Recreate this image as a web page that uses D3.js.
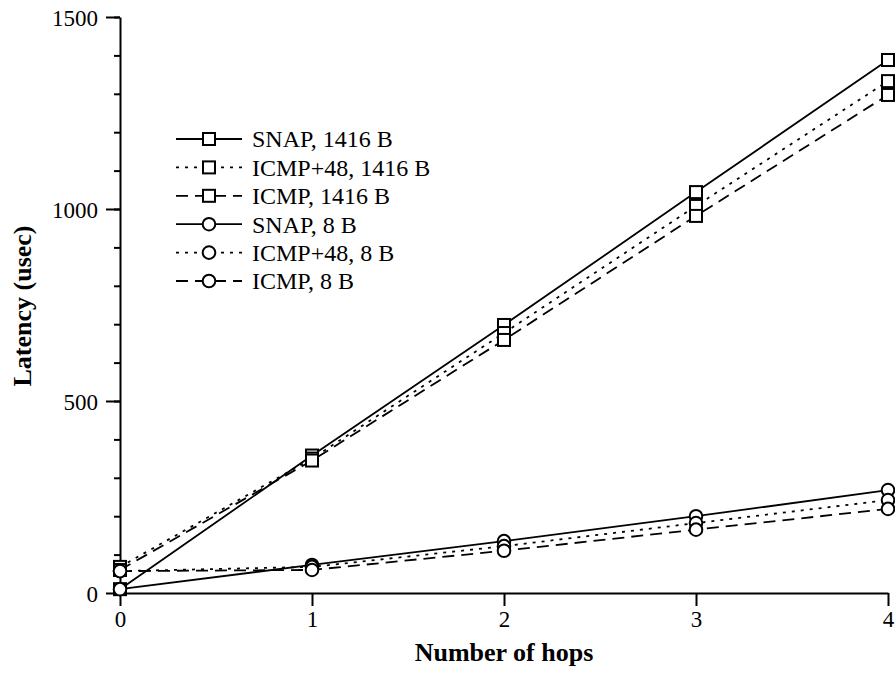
<!DOCTYPE html>
<html><head><meta charset="utf-8">
<script src="https://cdn.jsdelivr.net/npm/d3@7/dist/d3.min.js"></script>
<style>body{margin:0;background:#fff}svg{display:block}text{font-family:"Liberation Serif","Times New Roman",serif}</style>
</head><body>
<svg id="c" width="895" height="675"></svg>
<script>
const hops = [0, 1, 2, 3, 4];
const snap1416 = [10, 358, 698, 1044, 1388];
const icmp48_1416 = [68, 350, 677, 1008, 1333];
const icmp1416 = [60, 345, 659, 982, 1297];
const snap8 = [10, 73, 135, 200, 268];
const icmp48_8 = [57, 68, 122, 182, 242];
const icmp8 = [57, 60, 110, 165, 219];
const seriesNames = ["SNAP, 1416 B", "ICMP+48, 1416 B", "ICMP, 1416 B", "SNAP, 8 B", "ICMP+48, 8 B", "ICMP, 8 B"];
const xTicks = [0, 1, 2, 3, 4];
const yTicks = [0, 500, 1000, 1500];

const series = [
  {name: seriesNames[0], v: snap1416, dash: null, m: "sq"},
  {name: seriesNames[1], v: icmp48_1416, dash: "3,6", m: "sq"},
  {name: seriesNames[2], v: icmp1416, dash: "12,7", m: "sq"},
  {name: seriesNames[3], v: snap8, dash: null, m: "ci"},
  {name: seriesNames[4], v: icmp48_8, dash: "3,6", m: "ci"},
  {name: seriesNames[5], v: icmp8, dash: "12,7", m: "ci"}
];

const svg = d3.select("#c");
const x = d3.scaleLinear().domain([0, 4]).range([120, 888]);
const y = d3.scaleLinear().domain([0, 1500]).range([593, 17]);

// axes
const xa = svg.append("g").attr("transform", "translate(0,593)")
  .call(d3.axisBottom(x).tickValues(xTicks).tickFormat(d3.format("d")).tickSize(13).tickSizeOuter(0));
const yMinor = svg.append("g").attr("transform", "translate(120,0)")
  .call(d3.axisLeft(y).tickValues(d3.range(0, 1501, 100)).tickFormat("").tickSize(6).tickSizeOuter(0));
yMinor.select(".domain").remove();
const ya = svg.append("g").attr("transform", "translate(120,0)")
  .call(d3.axisLeft(y).tickValues(yTicks).tickFormat(d3.format("d")).tickSize(14).tickSizeOuter(0));
[xa, ya, yMinor].forEach(g => {
  g.selectAll("line").attr("stroke", "#000").attr("stroke-width", 2);
  g.select(".domain").attr("stroke", "#000").attr("stroke-width", 2);
  g.selectAll("text").attr("fill", "#000").style("font-size", "23px");
});
xa.selectAll("text").attr("dy", "0").attr("y", 34);
ya.selectAll("text").attr("x", -22).attr("dy", "0.35em");

// titles
svg.append("text").attr("x", 504).attr("y", 661).attr("text-anchor", "middle")
  .style("font-size", "26px").style("font-weight", "bold").text("Number of hops");
svg.append("text").attr("transform", "translate(31,306) rotate(-90)").attr("text-anchor", "middle")
  .style("font-size", "26px").style("font-weight", "bold").text("Latency (usec)");

const line = d3.line().x((d, i) => x(hops[i])).y(d => y(d));
function marker(g, type, cx, cy) {
  if (type === "sq") {
    g.append("rect").attr("x", cx - 6).attr("y", cy - 6).attr("width", 12).attr("height", 12)
      .attr("fill", "#fff").attr("stroke", "#000").attr("stroke-width", 2);
  } else {
    g.append("circle").attr("cx", cx).attr("cy", cy).attr("r", 6.3)
      .attr("fill", "#fff").attr("stroke", "#000").attr("stroke-width", 2);
  }
}
const plot = svg.append("g");
series.forEach(s => {
  plot.append("path").datum(s.v).attr("d", line).attr("fill", "none")
    .attr("stroke", "#000").attr("stroke-width", 1.8)
    .attr("stroke-dasharray", s.dash);
});
series.forEach(s => {
  s.v.forEach((d, i) => marker(plot, s.m, x(hops[i]), y(d)));
});

// legend
const lg = svg.append("g");
series.forEach((s, i) => {
  const ly = 139 + i * 28.4;
  lg.append("line").attr("x1", 176).attr("x2", 242).attr("y1", ly).attr("y2", ly)
    .attr("stroke", "#000").attr("stroke-width", 1.8).attr("stroke-dasharray", s.dash);
  marker(lg, s.m, 209, ly);
  lg.append("text").attr("x", 252).attr("y", ly).attr("dy", "0.35em")
    .style("font-size", "24px").text(s.name);
});
</script>
</body></html>
